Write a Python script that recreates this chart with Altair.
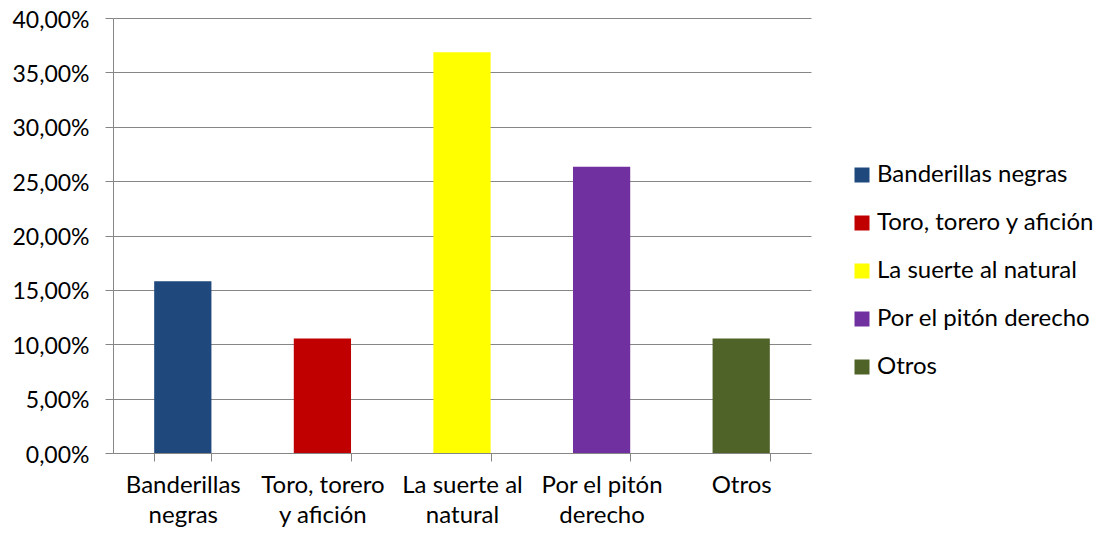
import altair as alt
import pandas as pd

categories = ["Banderillas negras", "Toro, torero y afición", "La suerte al natural",
              "Por el pitón derecho", "Otros"]
axis_labels = ["Banderillas|negras", "Toro, torero|y afición", "La suerte al|natural",
               "Por el pitón|derecho", "Otros"]
values = [0.1579, 0.1053, 0.3684, 0.2632, 0.1053]
colors = ["#1F497D", "#C00000", "#FFFF00", "#7030A0", "#4F6228"]

df = pd.DataFrame({"cat": categories, "value": values})

label_map = "{" + ",".join(f"'{c}':'{l}'" for c, l in zip(categories, axis_labels)) + "}"

FONT = "Lato"
GREY = "#868686"

chart = alt.Chart(df).mark_bar().encode(
    x=alt.X("cat:N", sort=categories, title=None,
            scale=alt.Scale(paddingInner=0.59, paddingOuter=0.295),
            axis=alt.Axis(labelAngle=0, ticks=True, tickBand="extent", tickSize=8,
                          tickColor=GREY, domainColor=GREY, labelFont=FONT,
                          labelFontSize=24, labelColor="#000000", labelPadding=12,
                          labelLineHeight=30, labelLimit=200,
                          labelExpr=f"isValid({label_map}[datum.label]) ? split({label_map}[datum.label], '|') : ''")),
    y=alt.Y("value:Q", title=None,
            scale=alt.Scale(domain=[0, 0.4]),
            axis=alt.Axis(values=[0, 0.05, 0.1, 0.15, 0.2, 0.25, 0.3, 0.35, 0.4],
                          labelExpr="replace(format(datum.value, '.2%'), '.', ',')",
                          ticks=True, tickSize=8, tickColor=GREY, domainColor=GREY,
                          gridColor=GREY, labelFont=FONT, labelFontSize=23,
                          labelColor="#000000", labelPadding=16, labelOffset=2,
                          grid=True)),
    color=alt.Color("cat:N", sort=categories, title=None,
                    scale=alt.Scale(domain=categories, range=colors),
                    legend=alt.Legend(orient="none", legendX=737, legendY=145,
                                      symbolType="square", symbolSize=225,
                                      symbolStrokeWidth=0, labelFont=FONT,
                                      labelFontSize=24, labelColor="#000000",
                                      rowPadding=24, labelOffset=3, labelLimit=300)),
).properties(
    width=698, height=435,
    autosize=alt.AutoSizeParams(type="none"),
    padding={"left": 105, "top": 10, "right": 293, "bottom": 80},
).configure_view(stroke=None).configure_axis(domainWidth=1, gridWidth=1, tickWidth=1)

chart.save("out.html", embed_options={"renderer": "svg", "actions": False})
